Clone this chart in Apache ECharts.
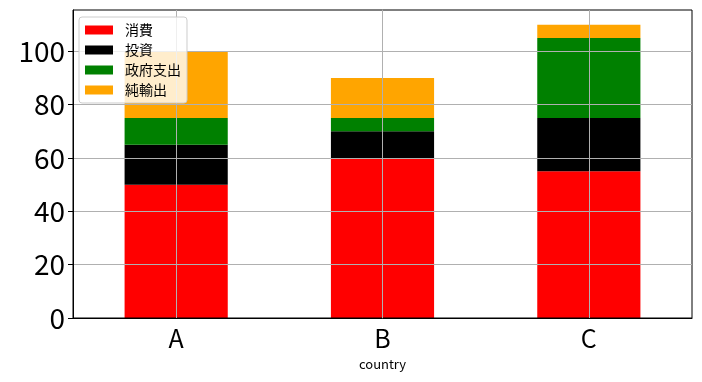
<!DOCTYPE html>
<html><head><meta charset="utf-8">
<script src="https://cdn.jsdelivr.net/npm/echarts@6/dist/echarts.min.js"></script>
<style>html,body{margin:0;padding:0;background:#fff}#c{width:702px;height:382px}</style>
</head><body><div id="c"></div>
<script>
const categories = ['A', 'B', 'C'];
const consumption = [50, 60, 55];
const investment = [15, 10, 20];
const government = [10, 5, 30];
const netExports = [25, 15, 5];
const yTicks = [0, 20, 40, 60, 80, 100];

const FONT = '"Noto Sans CJK JP", "DejaVu Sans", sans-serif';
const chart = echarts.init(document.getElementById('c'));
function bar(name, data, color) {
  return { name, type: 'bar', stack: 'total', data, barWidth: '50%',
    itemStyle: { color }, z: 2, emphasis: { disabled: true } };
}
// helper axis for gridlines through category centres (half-step positions)
const halfSteps = [];
for (let i = 0; i <= categories.length * 2; i++) halfSteps.push(String(i));
chart.setOption({
  animation: false,
  textStyle: { fontFamily: FONT },
  grid: { left: 73, right: 10, top: 10, bottom: 64, show: true,
    borderColor: '#000', borderWidth: 1, backgroundColor: 'transparent', z: 3 },
  legend: {
    left: 79, top: 17, orient: 'vertical', z: 6,
    itemWidth: 28, itemHeight: 9, itemGap: 6,
    padding: [6, 6, 6, 6],
    backgroundColor: 'rgba(255,255,255,0.8)', borderColor: '#cccccc', borderWidth: 1, borderRadius: 3,
    textStyle: { fontFamily: FONT, fontSize: 14, color: '#000', padding: [0, 0, 0, 7] },
    icon: 'rect',
    data: ['消費', '投資', '政府支出', '純輸出']
  },
  xAxis: [{
    type: 'category', data: categories, z: 3,
    name: 'country', nameLocation: 'middle', nameGap: 40,
    nameTextStyle: { fontFamily: FONT, fontSize: 13, color: '#000' },
    axisLine: { lineStyle: { color: '#000', width: 1 } },
    axisTick: { alignWithLabel: true, length: 5, lineStyle: { color: '#000' } },
    axisLabel: { fontFamily: FONT, fontSize: 25, color: '#000', margin: 8 },
    splitLine: { show: false }
  }, {
    type: 'category', data: halfSteps, boundaryGap: false, position: 'bottom', z: 3,
    axisLine: { show: false }, axisTick: { show: false }, axisLabel: { show: false },
    splitLine: { show: true, interval: (idx) => idx % 2 === 1,
      lineStyle: { color: '#b0b0b0', width: 1 } }
  }],
  yAxis: {
    type: 'value', min: 0, max: 115.5, interval: 20, z: 3,
    axisLine: { show: true, lineStyle: { color: '#000', width: 1 } },
    axisTick: { show: true, length: 5, customValues: yTicks, lineStyle: { color: '#000' } },
    axisLabel: { fontFamily: FONT, fontSize: 28, color: '#000', margin: 8, customValues: yTicks },
    splitLine: { show: true, lineStyle: { color: '#b0b0b0', width: 1 } }
  },
  series: [
    bar('消費', consumption, '#ff0000'),
    bar('投資', investment, '#000000'),
    bar('政府支出', government, '#008000'),
    bar('純輸出', netExports, '#ffa500')
  ]
});
</script></body></html>
